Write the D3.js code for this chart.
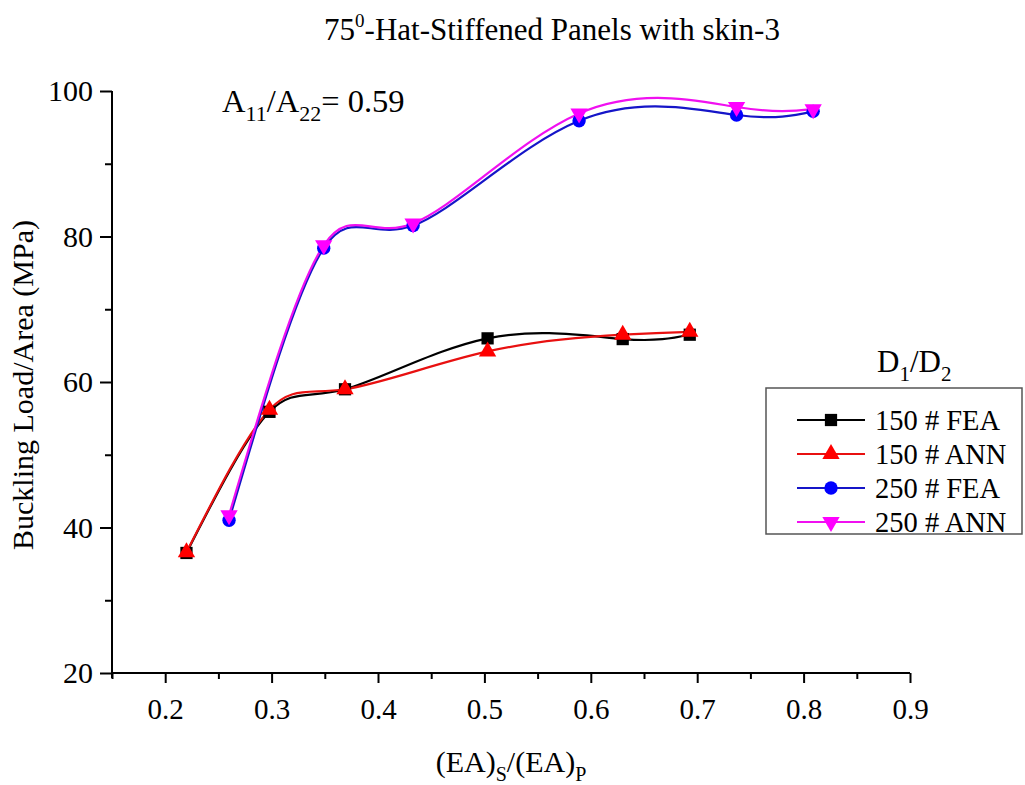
<!DOCTYPE html>
<html>
<head>
<meta charset="utf-8">
<script src="https://cdn.jsdelivr.net/npm/d3@7"></script>
<style>
  html, body { margin: 0; padding: 0; background: #fff; }
  svg text { font-family: "Liberation Serif", "Times New Roman", serif; fill: #000; }
</style>
</head>
<body>
<svg id="chart" width="1025" height="785"></svg>
<script>
// Buckling load per area vs. stiffener/panel axial stiffness ratio
const ratio150 = [0.220, 0.298, 0.369, 0.503, 0.630, 0.693];
const fea150   = [36.5, 55.9, 59.0, 66.0, 65.9, 66.5];
const ann150   = [36.6, 56.2, 59.0, 64.2, 66.5, 66.9];
const ratio250 = [0.260, 0.349, 0.433, 0.589, 0.737, 0.809];
const fea250   = [41.0, 78.4, 81.5, 95.9, 96.7, 97.2];
const ann250   = [41.7, 78.8, 81.8, 96.9, 97.8, 97.5];

const seriesNames = ["150 # FEA", "150 # ANN", "250 # FEA", "250 # ANN"];
const xTicks = [0.2, 0.3, 0.4, 0.5, 0.6, 0.7, 0.8, 0.9];
const xMinorTicks = [0.15, 0.25, 0.35, 0.45, 0.55, 0.65, 0.75, 0.85];
const yTicks = [20, 40, 60, 80, 100];
const yMinorTicks = [30, 50, 70, 90];

const series = [
  { name: seriesNames[0], xs: ratio150, ys: fea150, color: "#000000", lineColor: "#000000", symbol: d3.symbolSquare,   size: 150, rot: 0 },
  { name: seriesNames[1], xs: ratio150, ys: ann150, color: "#ff0000", lineColor: "#e81010", symbol: d3.symbolTriangle, size: 130, rot: 0 },
  { name: seriesNames[2], xs: ratio250, ys: fea250, color: "#0000ff", lineColor: "#1515c8", symbol: d3.symbolCircle,   size: 140, rot: 0 },
  { name: seriesNames[3], xs: ratio250, ys: ann250, color: "#ff00ff", lineColor: "#f010f0", symbol: d3.symbolTriangle, size: 130, rot: 180 }
];

const svg = d3.select("#chart");
const x = d3.scaleLinear().domain([0.15, 0.9]).range([112, 910]);
const y = d3.scaleLinear().domain([20, 100]).range([673, 91]);

// Axis lines
const axisG = svg.append("g");
axisG.append("line").attr("x1", x(0.15)).attr("x2", x(0.9)).attr("y1", y(20)).attr("y2", y(20))
  .attr("stroke", "#000").attr("stroke-width", 2);
axisG.append("line").attr("x1", x(0.15)).attr("x2", x(0.15)).attr("y1", y(100)).attr("y2", y(20) + 5)
  .attr("stroke", "#000").attr("stroke-width", 2);

const xAxis = d3.axisBottom(x).tickValues(xTicks).tickSize(10).tickSizeOuter(0)
  .tickFormat(d3.format(".1f"));
const xa = svg.append("g").attr("transform", `translate(0,${y(20)})`).call(xAxis);
xa.select(".domain").remove();
xa.selectAll(".tick line").attr("stroke", "#000").attr("stroke-width", 2);
xa.selectAll(".tick text").attr("font-size", 29).attr("y", 0).attr("dy", 46)
  .style("font-family", '"Liberation Serif", serif').attr("fill", "#000");

const xMinor = d3.axisBottom(x).tickValues(xMinorTicks).tickSize(6).tickFormat("");
const xm = svg.append("g").attr("transform", `translate(0,${y(20)})`).call(xMinor);
xm.select(".domain").remove();
xm.selectAll(".tick line").attr("stroke", "#000").attr("stroke-width", 2);

const yAxis = d3.axisLeft(y).tickValues(yTicks).tickSize(12).tickPadding(7).tickSizeOuter(0);
const ya = svg.append("g").attr("transform", `translate(${x(0.15)},0)`).call(yAxis);
ya.select(".domain").remove();
ya.selectAll(".tick line").attr("stroke", "#000").attr("stroke-width", 2);
ya.selectAll(".tick text").attr("font-size", 30)
  .style("font-family", '"Liberation Serif", serif').attr("fill", "#000");

const yMinor = d3.axisLeft(y).tickValues(yMinorTicks).tickSize(7).tickFormat("");
const ym = svg.append("g").attr("transform", `translate(${x(0.15)},0)`).call(yMinor);
ym.select(".domain").remove();
ym.selectAll(".tick line").attr("stroke", "#000").attr("stroke-width", 2);

// Curves and markers
const line = d3.line().curve(d3.curveNatural);
series.forEach(s => {
  const pts = s.xs.map((v, i) => [x(v), y(s.ys[i])]);
  svg.append("path").attr("d", line(pts)).attr("fill", "none")
    .attr("stroke", s.lineColor).attr("stroke-width", 2.2);
});
series.forEach(s => {
  const sym = d3.symbol().type(s.symbol).size(s.size);
  svg.append("g").selectAll("path").data(s.xs.map((v, i) => [v, s.ys[i]])).join("path")
    .attr("d", sym)
    .attr("transform", d => `translate(${x(d[0])},${y(d[1])}) rotate(${s.rot})`)
    .attr("fill", s.color);
});

// Title
const title = svg.append("text").attr("x", 552).attr("y", 40).attr("text-anchor", "middle")
  .attr("font-size", 31);
title.append("tspan").text("75");
title.append("tspan").attr("font-size", 19).attr("dy", -13).text("0");
title.append("tspan").attr("dy", 13).text("-Hat-Stiffened Panels with skin-3");

// Stiffness ratio annotation
const ann = svg.append("text").attr("x", 222).attr("y", 112).attr("font-size", 32.5);
ann.append("tspan").text("A");
ann.append("tspan").attr("font-size", 22).attr("dy", 9).text("11");
ann.append("tspan").attr("dy", -9).text("/A");
ann.append("tspan").attr("font-size", 22).attr("dy", 9).text("22");
ann.append("tspan").attr("dy", -9).text("= 0.59");

// Axis titles
const xl = svg.append("text").attr("x", 511).attr("y", 772).attr("text-anchor", "middle").attr("font-size", 30);
xl.append("tspan").text("(EA)");
xl.append("tspan").attr("font-size", 20).attr("dy", 9).text("S");
xl.append("tspan").attr("dy", -9).text("/(EA)");
xl.append("tspan").attr("font-size", 20).attr("dy", 9).text("P");

svg.append("text").attr("transform", "translate(33,385) rotate(-90)").attr("text-anchor", "middle")
  .attr("font-size", 30).text("Buckling Load/Area (MPa)");

// Legend
const lg = svg.append("g");
const lt = lg.append("text").attr("x", 877).attr("y", 372).attr("font-size", 31);
lt.append("tspan").text("D");
lt.append("tspan").attr("font-size", 21).attr("dy", 9).text("1");
lt.append("tspan").attr("dy", -9).text("/D");
lt.append("tspan").attr("font-size", 21).attr("dy", 9).text("2");

lg.append("rect").attr("x", 766).attr("y", 388).attr("width", 256).attr("height", 146)
  .attr("fill", "#fff").attr("stroke", "#555").attr("stroke-width", 1.5);
series.forEach((s, i) => {
  const ly = 420 + i * 34;
  lg.append("line").attr("x1", 797).attr("x2", 865).attr("y1", ly).attr("y2", ly)
    .attr("stroke", s.lineColor).attr("stroke-width", 2.2);
  lg.append("path").attr("d", d3.symbol().type(s.symbol).size(s.size)())
    .attr("transform", `translate(831,${ly}) rotate(${s.rot})`).attr("fill", s.color);
  lg.append("text").attr("x", 875).attr("y", ly + 10).attr("font-size", 28.5).text(s.name);
});
</script>
</body>
</html>
